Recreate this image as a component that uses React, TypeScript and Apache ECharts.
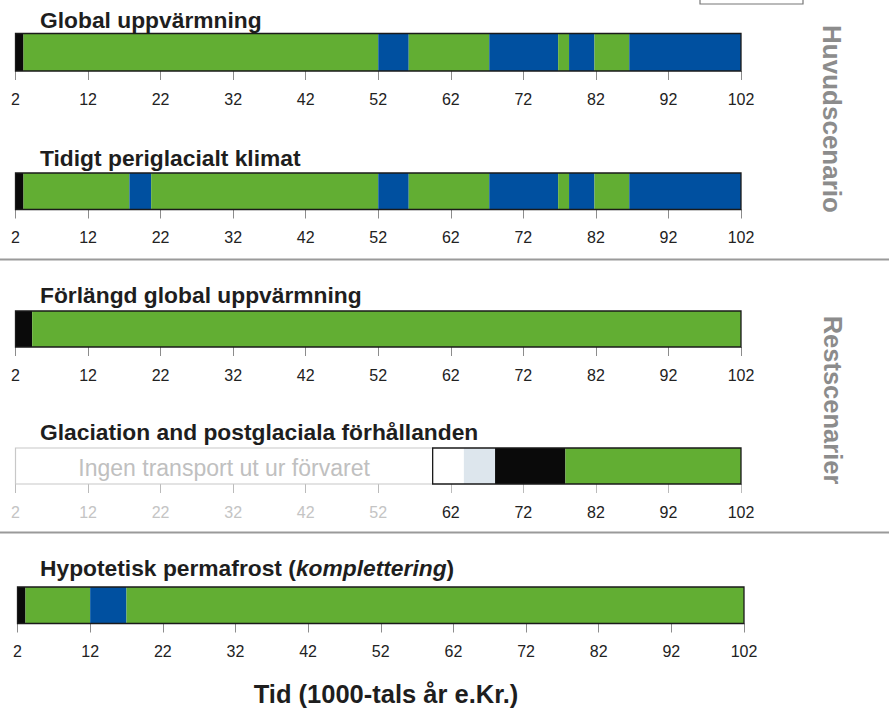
import React, { useEffect, useRef } from "react";
import * as echarts from "echarts";

// ---------- data ----------
const xMin = 2;
const xMax = 102;
const tickValues = [2, 12, 22, 32, 42, 52, 62, 72, 82, 92, 102];

const panelTitles = [
  "Global uppvärmning",
  "Tidigt periglacialt klimat",
  "Förlängd global uppvärmning",
  "Glaciation and postglaciala förhållanden",
  "Hypotetisk permafrost (",
];
const lastTitleItalic = "komplettering";
const lastTitleTail = ")";

const groupLabels = ["Huvudscenario", "Restscenarier"];
const axisTitle = "Tid (1000-tals år e.Kr.)";
const emptyLabel = "Ingen transport ut ur förvaret";

// segments: [start, end, kind]  k=black g=green b=blue w=white l=light  n=no transport
type Seg = [number, number, string];
const segGlobal: Seg[] = [
  [2, 3.1, "k"], [3.1, 52, "g"], [52, 56.2, "b"], [56.2, 67.3, "g"],
  [67.3, 76.8, "b"], [76.8, 78.3, "g"], [78.3, 81.8, "b"], [81.8, 86.6, "g"], [86.6, 102, "b"],
];
const segEarlyPeri: Seg[] = [
  [2, 3.1, "k"], [3.1, 17.7, "g"], [17.7, 20.7, "b"], [20.7, 52, "g"], [52, 56.2, "b"],
  [56.2, 67.3, "g"], [67.3, 76.8, "b"], [76.8, 78.3, "g"], [78.3, 81.8, "b"], [81.8, 86.6, "g"], [86.6, 102, "b"],
];
const segExtended: Seg[] = [[2, 4.3, "k"], [4.3, 102, "g"]];
const segGlaciation: Seg[] = [
  [2, 59.5, "n"], [59.5, 63.8, "w"], [63.8, 68.1, "l"], [68.1, 77.8, "k"], [77.8, 102, "g"],
];
const segPermafrost: Seg[] = [[2, 3.1, "k"], [3.1, 12, "g"], [12, 17, "b"], [17, 102, "g"]];

const panelSegments = [segGlobal, segEarlyPeri, segExtended, segGlaciation, segPermafrost];
// framed (black outlined) range per panel
const panelFrames: [number, number][] = [[2, 102], [2, 102], [2, 102], [59.5, 102], [2, 102]];

// ---------- styles ----------
const colors: Record<string, string> = {
  k: "#0a0a0a",
  g: "#62ae33",
  b: "#0050a0",
  w: "#ffffff",
  l: "#dde6ed",
  n: "#ffffff",
};
const FONT = "'Liberation Sans', Arial, Helvetica, sans-serif";
const grids = [
  { left: 15.5, top: 33.5, width: 725.5, height: 37.5 },
  { left: 15.5, top: 173, width: 725.5, height: 36.5 },
  { left: 15.5, top: 311, width: 725.5, height: 36 },
  { left: 15.5, top: 448, width: 725.5, height: 36 },
  { left: 17.5, top: 587, width: 726.5, height: 36.5 },
];
const titleY = [20, 158, 295, 432, 568];

export default function App() {
  const ref = useRef<HTMLDivElement>(null);
  useEffect(() => {
    if (!ref.current) return;
    const chart = echarts.init(ref.current, null, { renderer: "svg" });

    const xAxes = grids.map((_, i) => ({
      type: "value",
      gridIndex: i,
      min: xMin,
      max: xMax,
      axisLine: { show: false },
      splitLine: { show: false },
      axisTick: {
        show: true,
        length: 9,
        customValues: tickValues,
        lineStyle: { color: i === 3 ? "#bbbbbb" : "#8c8c8c", width: 1 },
      },
      axisLabel: {
        customValues: tickValues,
        margin: 20,
        fontSize: 16,
        fontFamily: FONT,
        color: i === 3 ? (v: any) => (Number(v) < 59.5 ? "#c4c4c4" : "#222222") : "#222222",
      },
    }));
    const yAxes = grids.map((_, i) => ({ type: "value", gridIndex: i, min: 0, max: 1, show: false }));

    const series: any[] = [];
    panelSegments.forEach((segs, i) => {
      series.push({
        type: "custom",
        xAxisIndex: i,
        yAxisIndex: i,
        data: segs.map((s) => [s[0], s[1]]),
        encode: { x: [0, 1] },
        renderItem: (params: any, api: any) => {
          const seg = segs[params.dataIndex];
          const p0 = api.coord([api.value(0), 1]);
          const p1 = api.coord([api.value(1), 0]);
          const kind = seg[2];
          const rect = {
            type: "rect",
            shape: { x: p0[0], y: p0[1], width: p1[0] - p0[0], height: p1[1] - p0[1] },
            style: kind === "n"
              ? { fill: "#ffffff", stroke: "#c8c8c8", lineWidth: 1.2 }
              : { fill: colors[kind], stroke: null },
          };
          if (kind !== "n") return rect;
          return {
            type: "group",
            children: [
              rect,
              {
                type: "text",
                style: {
                  x: (p0[0] + p1[0]) / 2,
                  y: (p0[1] + p1[1]) / 2 + 2,
                  text: emptyLabel,
                  fill: "#c0c0c0",
                  font: `23px ${FONT}`,
                  align: "center",
                  verticalAlign: "middle",
                },
              },
            ],
          };
        },
      });
      const fr = panelFrames[i];
      series.push({
        type: "custom",
        xAxisIndex: i,
        yAxisIndex: i,
        data: [[fr[0], fr[1]]],
        encode: { x: [0, 1] },
        z: 5,
        renderItem: (_p: any, api: any) => {
          const p0 = api.coord([api.value(0), 1]);
          const p1 = api.coord([api.value(1), 0]);
          return {
            type: "rect",
            shape: { x: p0[0], y: p0[1], width: p1[0] - p0[0], height: p1[1] - p0[1] },
            style: { fill: null, stroke: "#1a1a1a", lineWidth: 1.3 },
          };
        },
      });
    });

    const graphics: any[] = [];
    const TITLE_FONT = `bold 22.8px ${FONT}`;
    panelTitles.forEach((t, i) => {
      if (i < 4) {
        graphics.push({
          type: "text",
          x: 40,
          y: titleY[i],
          style: { text: t, font: TITLE_FONT, fill: "#1e1e1e", verticalAlign: "middle" },
        });
      } else {
        graphics.push({
          type: "text",
          x: 40,
          y: titleY[i],
          style: {
            text: `{b|${t}}{i|${lastTitleItalic}}{b|${lastTitleTail}}`,
            verticalAlign: "middle",
            rich: {
              b: { font: TITLE_FONT, fill: "#1e1e1e" },
              i: { font: `italic ${TITLE_FONT}`, fill: "#1e1e1e" },
            },
          },
        });
      }
    });
    // separators
    [259.5, 532.5].forEach((y) =>
      graphics.push({
        type: "line",
        shape: { x1: 0, y1: y, x2: 889, y2: y },
        style: { stroke: "#9a9a9a", lineWidth: 2 },
      })
    );
    // group labels
    graphics.push({
      type: "text", x: 832, y: 119, rotation: -Math.PI / 2,
      style: { text: groupLabels[0], font: `bold 26px ${FONT}`, fill: "#8c8c8c", align: "center", verticalAlign: "middle" },
    });
    graphics.push({
      type: "text", x: 833, y: 400, rotation: -Math.PI / 2,
      style: { text: groupLabels[1], font: `bold 25.5px ${FONT}`, fill: "#8c8c8c", align: "center", verticalAlign: "middle" },
    });
    // axis title
    graphics.push({
      type: "text", x: 386, y: 694,
      style: { text: axisTitle, font: `bold 25.5px ${FONT}`, fill: "#1e1e1e", align: "center", verticalAlign: "middle" },
    });
    // legend box (cut off at top)
    graphics.push({
      type: "rect",
      shape: { x: 700, y: -10, width: 103, height: 14 },
      style: { fill: "#ffffff", stroke: "#777777", lineWidth: 1.2 },
    });

    chart.setOption({
      animation: false,
      grid: grids.map((g) => ({ ...g, containLabel: false })),
      xAxis: xAxes,
      yAxis: yAxes,
      series,
      graphic: graphics,
    });
    return () => chart.dispose();
  }, []);
  return <div ref={ref} style={{ position: "absolute", left: 0, top: 0, width: 889, height: 708 }} />;
}
